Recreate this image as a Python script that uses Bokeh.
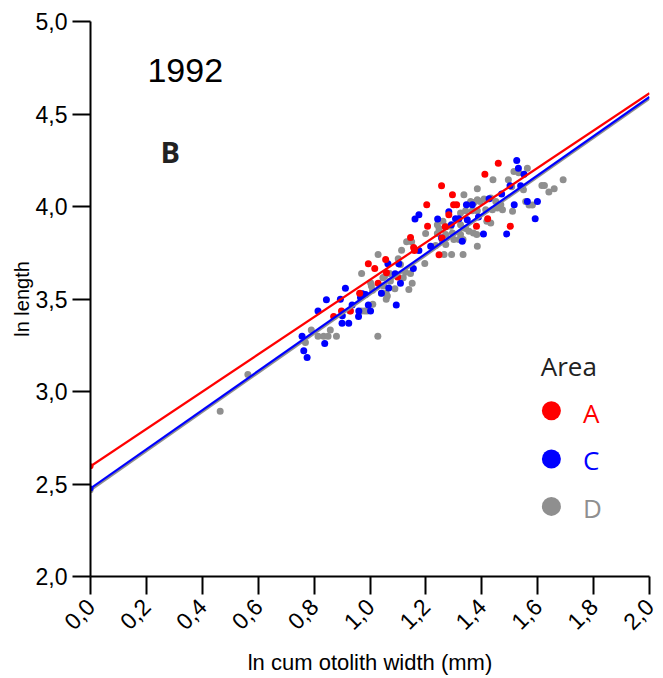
import math
from bokeh.plotting import figure
from bokeh.models import Range1d, FixedTicker
from bokeh.core.properties import value
from bokeh.embed import file_html
from bokeh.resources import INLINE

# ---------------- data ----------------
area_a_x = [1.459, 1.411, 1.256, 1.295, 1.299, 1.310, 1.203, 1.282, 1.421, 1.206,
            1.269, 1.381, 1.502, 1.145, 1.258, 1.156, 1.159, 1.247, 1.056, 0.994,
            1.017, 1.059, 1.099, 1.029, 0.963, 0.930, 0.898, 0.870]
area_a_y = [4.234, 4.175, 4.112, 4.064, 4.010, 4.010, 4.010, 3.956, 3.934, 3.893,
            3.891, 3.893, 3.893, 3.832, 3.830, 3.778, 3.762, 3.739, 3.714, 3.691,
            3.665, 3.642, 3.619, 3.585, 3.531, 3.435, 3.435, 3.405]

area_c_x = [1.525, 1.531, 1.551, 1.539, 1.501, 1.471, 1.426, 1.599, 1.563, 1.345,
            1.366, 1.516, 1.282, 1.175, 1.161, 1.242, 1.306, 1.318, 1.591, 1.406,
            1.489, 1.330, 1.256, 1.217, 1.175, 1.103, 1.064, 1.155, 1.090, 1.109,
            1.067, 1.041, 0.912, 0.973, 0.984, 0.966, 0.844, 0.894, 0.936, 0.994,
            1.002, 0.960, 0.814, 0.959, 1.094, 0.900, 0.924, 0.757, 0.838, 0.763,
            0.775, 0.901, 1.348, 1.388, 1.291]
area_c_y = [4.248, 4.207, 4.175, 4.112, 4.112, 4.067, 4.042, 4.027, 4.027, 4.010,
            4.010, 4.010, 3.972, 3.956, 3.933, 3.933, 3.934, 3.934, 3.934, 3.852,
            3.852, 3.812, 3.830, 3.785, 3.762, 3.691, 3.691, 3.665, 3.637, 3.585,
            3.560, 3.531, 3.558, 3.529, 3.525, 3.508, 3.496, 3.498, 3.468, 3.468,
            3.435, 3.435, 3.435, 3.405, 3.468, 3.369, 3.369, 3.298, 3.260, 3.220,
            3.184, 3.409, 3.929, 3.943, 3.902]

area_d_x = [1.336, 1.360, 1.372, 1.384, 1.440, 1.384, 1.495, 1.515, 1.532, 1.563,
            1.691, 1.615, 1.624, 1.659, 1.640, 1.549, 1.557, 1.569, 1.581, 1.510,
            1.394, 1.408, 1.432, 1.450, 1.468, 1.474, 1.456, 1.438, 1.414, 1.384,
            1.366, 1.342, 1.324, 1.261, 1.273, 1.247, 1.241, 1.324, 1.342, 1.354,
            1.370, 1.382, 1.324, 1.333, 1.300, 1.384, 1.333, 1.292, 1.265, 1.241,
            1.271, 1.318, 1.295, 1.289, 1.199, 1.131, 1.149, 1.113, 1.196, 1.029,
            1.101, 0.970, 1.070, 1.052, 1.119, 1.145, 1.046, 1.151, 1.089, 1.005,
            1.009, 1.041, 1.058, 1.058, 1.010, 0.970, 0.981, 0.990, 0.928, 0.790,
            0.858, 0.814, 0.834, 0.850, 0.880, 1.028, 0.769, 0.464, 0.563, 1.259,
            1.271, 1.235, 1.002, 1.049, 1.073, 1.127, 1.139, 1.062, 1.109, 1.507,
            1.418, 1.432]
area_d_y = [4.064, 4.027, 4.022, 4.037, 4.144, 4.096, 4.144, 4.189, 4.182, 4.207,
            4.144, 4.114, 4.114, 4.096, 4.078, 4.090, 4.027, 4.008, 4.008, 3.974,
            4.027, 4.040, 4.046, 4.027, 4.010, 3.983, 3.992, 3.983, 3.983, 3.977,
            3.977, 3.977, 3.965, 3.920, 3.890, 3.881, 3.902, 3.902, 3.881, 3.866,
            3.857, 3.848, 3.848, 3.821, 3.821, 3.785, 3.741, 3.741, 3.741, 3.854,
            3.848, 3.821, 3.857, 3.893, 3.854, 3.809, 3.809, 3.764, 3.692, 3.741,
            3.717, 3.638, 3.638, 3.622, 3.615, 3.638, 3.615, 3.585, 3.556, 3.570,
            3.547, 3.531, 3.531, 3.498, 3.471, 3.435, 3.435, 3.435, 3.435, 3.332,
            3.332, 3.298, 3.298, 3.298, 3.298, 3.298, 3.265, 2.893, 3.092, 3.812,
            3.794, 3.789, 3.588, 3.570, 3.597, 3.645, 3.552, 3.516, 3.687, 4.107,
            3.920, 3.911]

# regression lines (endpoints at x = 0 and x = 2)
fit_x = [0.0, 2.0]
fit_a_y = [2.596, 4.612]
fit_c_y = [2.476, 4.592]
fit_d_y = [2.466, 4.582]

x_ticks = [0.0, 0.2, 0.4, 0.6, 0.8, 1.0, 1.2, 1.4, 1.6, 1.8, 2.0]
x_tick_labels = ["0,0", "0,2", "0,4", "0,6", "0,8", "1,0", "1,2", "1,4", "1,6", "1,8", "2,0"]
y_ticks = [2.0, 2.5, 3.0, 3.5, 4.0, 4.5, 5.0]
y_tick_labels = ["2,0", "2,5", "3,0", "3,5", "4,0", "4,5", "5,0"]

areas = ["A", "C", "D"]
colors = ["#ff0000", "#0000ff", "#8f8f8f"]

# ---------------- figure ----------------
p = figure(width=660, height=678, x_range=Range1d(0, 2), y_range=Range1d(2, 5),
           output_backend="svg", toolbar_location=None,
           min_border_left=90, min_border_right=11, min_border_top=21, min_border_bottom=100)
p.grid.visible = False
p.outline_line_color = None
p.background_fill_color = "white"
p.border_fill_color = "white"

tick_font = "Liberation Sans"
for ax in (p.xaxis[0], p.yaxis[0]):
    ax.axis_line_width = 2
    ax.axis_line_color = "black"
    ax.major_tick_line_width = 2
    ax.major_tick_line_color = "black"
    ax.major_tick_in = 0
    ax.major_tick_out = 18
    ax.minor_tick_line_color = None
    ax.major_label_text_font = tick_font
    ax.major_label_text_font_size = "23px"
    ax.major_label_text_color = "black"
    ax.axis_label_text_font = tick_font
    ax.axis_label_text_font_style = "normal"
    ax.axis_label_text_color = "black"

p.xaxis.ticker = FixedTicker(ticks=x_ticks)
p.xaxis.major_label_overrides = dict(zip(x_ticks, x_tick_labels))
p.xaxis.major_label_orientation = math.pi / 4
p.xaxis.axis_label = "ln cum otolith width (mm)"
p.xaxis.axis_label_text_font_size = "22px"
p.xaxis.major_label_standoff = 8
p.xaxis.axis_label_standoff = 10

p.yaxis.ticker = FixedTicker(ticks=y_ticks)
p.yaxis.major_label_overrides = dict(zip(y_ticks, y_tick_labels))
p.yaxis.axis_label = "ln length"
p.yaxis.axis_label_text_font_size = "20px"
p.yaxis.major_label_standoff = 5
p.yaxis.axis_label_standoff = 0

# points
p.scatter(area_d_x, area_d_y, size=7, color=colors[2], line_color=None)
p.scatter(area_c_x, area_c_y, size=7, color=colors[1], line_color=None)
p.scatter(area_a_x, area_a_y, size=7, color=colors[0], line_color=None)

# fitted lines
for fy, c in ((fit_d_y, colors[2]), (fit_c_y, colors[1]), (fit_a_y, colors[0])):
    p.line(fit_x, fy, line_color=c, line_width=2.2)
    p.scatter([fit_x[0]], [fy[0]], size=6, color=c, line_color=None)

# annotations
p.text([0.339], [4.736], text=["1992"], text_font=value("Liberation Sans"),
       text_font_size="34px", text_align="center", text_baseline="middle", text_color="black")
p.text([0.285], [4.295], text=["B"], text_font=value("Open Sans"), text_font_style="bold",
       text_font_size="29px", text_align="center", text_baseline="middle", text_color="#222222")

# legend (custom, coloured labels)
p.text([1.611], [3.138], text=["Area"], text_font=value("Open Sans"), text_font_size="26px",
       text_align="left", text_baseline="middle", text_color="#222222")
leg_marker_y = [2.896, 2.635, 2.379]
leg_text_y = [2.885, 2.629, 2.368]
for i in range(3):
    p.scatter([1.649], [leg_marker_y[i]], size=19, color=colors[i], line_color=None)
    p.text([1.762], [leg_text_y[i]], text=[areas[i]], text_font=value("Open Sans"),
           text_font_size="26px", text_align="left", text_baseline="middle", text_color=colors[i])

open("out.html", "w").write(file_html(p, INLINE))
